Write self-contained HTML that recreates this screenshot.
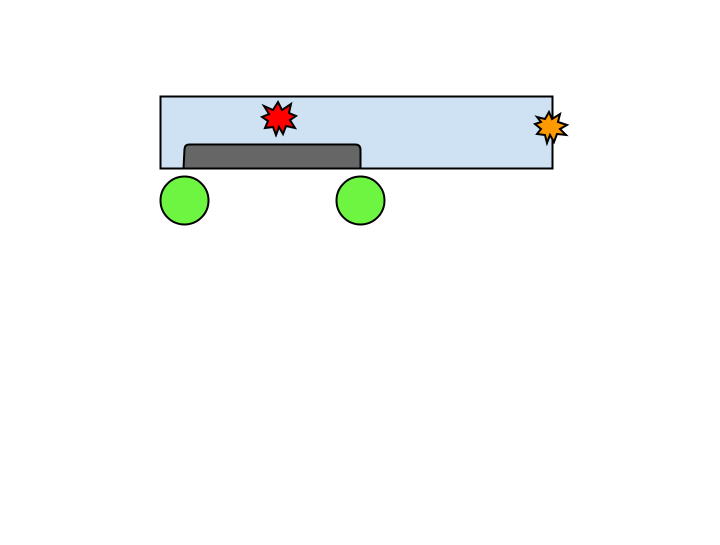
<!DOCTYPE html>
<html><head><style>html,body{margin:0;padding:0;background:#fff}</style></head>
<body>
<svg width="720" height="540" xmlns="http://www.w3.org/2000/svg">
<rect x="160.5" y="96.5" width="392" height="72" fill="#cfe2f3" stroke="#000" stroke-width="2"/>
<path d="M183.5,168.5 L184.5,149 Q185,144.5 189,144.5 L355,144.5 Q360.5,144.5 360.5,150 L360.5,168.5 Z" fill="#666" stroke="#000" stroke-width="2"/>
<circle cx="184.5" cy="200.5" r="24" fill="#6ef542" stroke="#000" stroke-width="2"/>
<circle cx="360.5" cy="200.5" r="24" fill="#6ef542" stroke="#000" stroke-width="2"/>
<polygon fill="#f00" stroke="#000" stroke-width="2" points="264,106 273,110 278,102 282,110 291,104 289,113 296,116 290,120 295,128 286,126 283,134 279,127 276,135 273,127 265,128 268,121 262,117 269,114"/>
<polygon fill="#f90" stroke="#000" stroke-width="2" points="537,117 545,119 549,112 552,119 560,114 558,122 567,125 560,129 566,135 557,134 554,142 550,135 547,143 545,135 537,134 541,129 535,124 541,122"/>
</svg>
</body></html>
